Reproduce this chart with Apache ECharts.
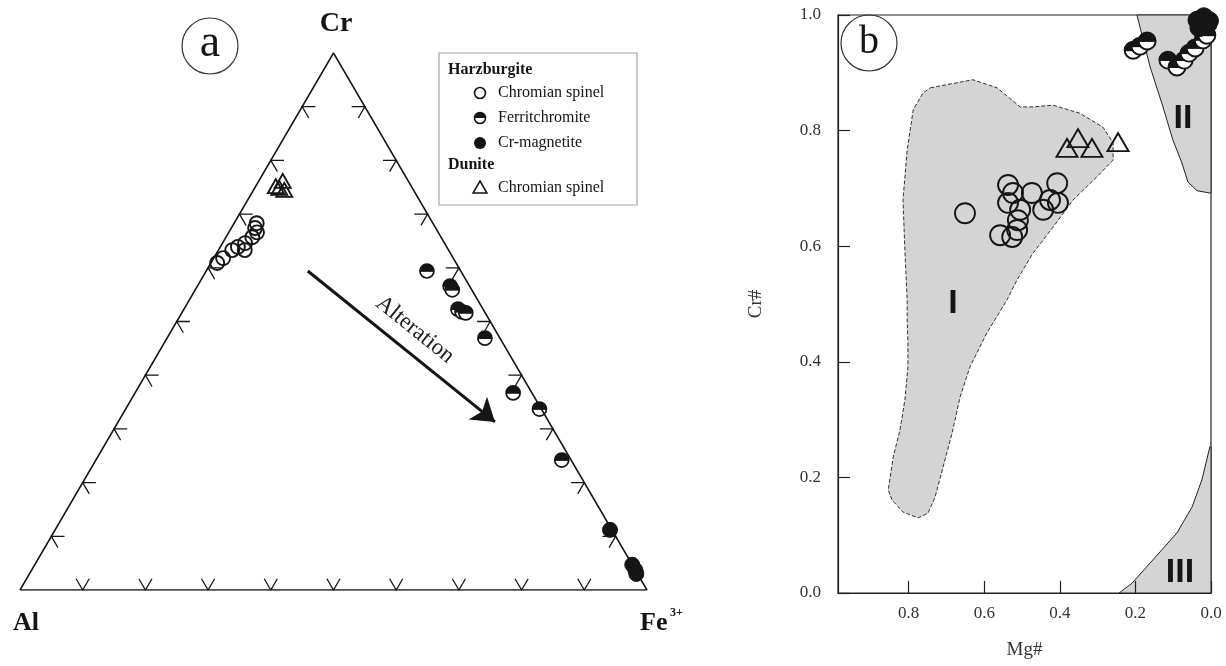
<!DOCTYPE html>
<html><head><meta charset="utf-8">
<script src="https://cdn.jsdelivr.net/npm/echarts@6/dist/echarts.min.js"></script>
<style>html,body{margin:0;padding:0;background:#fff}#c{width:1226px;height:666px}</style>
</head><body><div id="c"></div>
<script>
// ---------- Panel a: ternary Cr - Al - Fe3+ (fractions [Cr, Al, Fe]) ----------
const terHzChromian = [
  [0.609,0.381,0.010],[0.618,0.367,0.015],[0.633,0.345,0.022],[0.639,0.333,0.028],
  [0.633,0.325,0.042],[0.646,0.318,0.036],[0.657,0.301,0.042],[0.674,0.288,0.038],
  [0.683,0.281,0.036],[0.666,0.289,0.045]
];
const terDunChromian = [
  [0.752,0.216,0.032],[0.762,0.200,0.038],[0.745,0.206,0.049],[0.749,0.212,0.039]
];
const terFerritchromite = [
  [0.594,0.054,0.352],[0.566,0.031,0.403],[0.559,0.031,0.410],[0.523,0.040,0.437],
  [0.518,0.036,0.446],[0.516,0.031,0.453],[0.469,0.024,0.507],[0.367,0.030,0.603],
  [0.337,0.003,0.660],[0.242,0.015,0.743]
];
const terCrMagnetite = [
  [0.112,0.003,0.885],[0.047,0.000,0.953],[0.037,0.000,0.963],[0.030,0.002,0.968]
];
const ternTicks = [0.1,0.2,0.3,0.4,0.5,0.6,0.7,0.8,0.9];
const alterationStart = [0.594,0.244,0.162];
const alterationEnd = [0.313,0.086,0.601];

// ---------- Panel b: Cr# vs Mg# ([Mg#, Cr#]) ----------
const bHzChromian = [
  [0.651,0.657],[0.537,0.706],[0.524,0.692],[0.537,0.675],[0.505,0.663],[0.474,0.692],
  [0.407,0.709],[0.426,0.680],[0.405,0.675],[0.444,0.663],[0.511,0.645],[0.513,0.628],
  [0.558,0.619],[0.526,0.616]
];
const bDunChromian = [[0.381,0.770],[0.352,0.787],[0.315,0.770],[0.246,0.780]];
const bFerritchromite = [
  [0.206,0.939],[0.188,0.946],[0.169,0.955],[0.114,0.922],[0.090,0.910],
  [0.071,0.922],[0.058,0.934],[0.042,0.943],[0.021,0.957],[0.011,0.965]
];
const bCrMagnetite = [[0.037,0.991],[0.019,0.997],[0.008,0.984],[0.032,0.978],[0.004,0.990]];
const regionI = [
  [0.743,0.874],[0.630,0.888],[0.566,0.874],[0.505,0.841],[0.471,0.841],[0.418,0.844],
  [0.347,0.830],[0.286,0.806],[0.259,0.779],[0.259,0.749],[0.302,0.720],[0.365,0.680],
  [0.418,0.633],[0.471,0.588],[0.513,0.542],[0.540,0.507],[0.593,0.450],[0.638,0.391],
  [0.664,0.339],[0.685,0.277],[0.709,0.218],[0.730,0.166],[0.749,0.138],[0.775,0.130],
  [0.815,0.140],[0.844,0.161],[0.854,0.178],[0.841,0.235],[0.823,0.282],[0.810,0.334],
  [0.802,0.391],[0.802,0.433],[0.804,0.472],[0.804,0.507],[0.810,0.593],[0.815,0.680],
  [0.804,0.766],[0.788,0.836],[0.762,0.865]
];
const regionII = [
  [0.196,1.0],[0.161,0.910],[0.127,0.841],[0.101,0.784],[0.077,0.744],[0.061,0.711],
  [0.037,0.696],[0.003,0.692],[0,0.692],[0,1.0]
];
const regionIII = [
  [0.243,0],[0.209,0.017],[0.161,0.052],[0.090,0.104],[0.050,0.149],[0.024,0.196],
  [0.003,0.253],[0,0.253],[0,0]
];
const regionLabels = ['I','II','III'];
const regionLabelPos = [[0.683,0.50],[0.074,0.82],[0.082,0.035]];
const bXTicks = [0,0.2,0.4,0.6,0.8];
const bYTicks = [0,0.2,0.4,0.6,0.8,1.0];

// ---------- helpers ----------
const INK = '#151515';
const SERIF = '"Liberation Serif", "DejaVu Serif", serif';
function tern(p){ return [p[2] + p[0]/2, p[0]]; }
const stub = 0.021;
const tickLines = [];
ternTicks.forEach(t => {
  tickLines.push({coords:[[t - stub/2, stub],[t, 0],[t + stub/2, stub]]});
  tickLines.push({coords:[[t/2 + stub, t],[t/2, t],[t/2 + stub/2, t - stub]]});
  tickLines.push({coords:[[1 - t/2 - stub, t],[1 - t/2, t],[1 - t/2 - stub/2, t - stub]]});
});
function halfRender(r, lw){
  return function(params, api){
    const c = api.coord([api.value(0), api.value(1)]);
    return {type:'group', children:[
      {type:'circle', shape:{cx:c[0], cy:c[1], r:r}, style:{fill:'#fff', stroke:INK, lineWidth:lw}},
      {type:'sector', shape:{cx:c[0], cy:c[1], r0:0, r:r, startAngle:Math.PI, endAngle:2*Math.PI, clockwise:true}, style:{fill:INK}},
      {type:'line', shape:{x1:c[0]-r, y1:c[1], x2:c[0]+r, y2:c[1]}, style:{stroke:INK, lineWidth:lw}}
    ]};
  };
}
const regions = [regionI, regionII, regionIII];
const regionStyles = [
  {fill:'#d4d4d4', stroke:'#333', lineWidth:1, lineDash:[4,2]},
  {fill:'#d4d4d4', stroke:'#222', lineWidth:1},
  {fill:'#d4d4d4', stroke:'#222', lineWidth:1}
];
const openStyle = w => ({color:'rgba(0,0,0,0)', borderColor:INK, borderWidth:w, opacity:1});

const chart = echarts.init(document.getElementById('c'), null, {renderer:'canvas'});
chart.setOption({
  animation:false,
  backgroundColor:'#ffffff',
  grid:[
    {left:20, top:53, width:627, height:537, show:false},
    {left:838, top:15, width:373, height:578, show:true, borderColor:'#222', borderWidth:1.2, backgroundColor:'transparent'}
  ],
  xAxis:[
    {gridIndex:0, type:'value', min:0, max:1, show:false},
    {gridIndex:1, type:'value', inverse:true, min:0, max:0.987, z:5,
     splitLine:{show:false},
     axisLine:{onZero:false, lineStyle:{color:'#222', width:1.2}},
     axisTick:{inside:true, length:12, customValues:bXTicks, lineStyle:{color:'#222', width:1.2}},
     axisLabel:{customValues:bXTicks, formatter:v=>v.toFixed(1), margin:12, color:'#333', fontFamily:SERIF, fontSize:17},
     name:'Mg#', nameLocation:'middle', nameGap:48, nameTextStyle:{fontFamily:SERIF, fontSize:19, color:'#333'}}
  ],
  yAxis:[
    {gridIndex:0, type:'value', min:0, max:1, show:false},
    {gridIndex:1, type:'value', min:0, max:1, interval:0.2, z:5, position:'left',
     splitLine:{show:false},
     axisLine:{onZero:false, lineStyle:{color:'#222', width:1.2}},
     axisTick:{inside:true, length:12, customValues:bYTicks, lineStyle:{color:'#222', width:1.2}},
     axisLabel:{customValues:bYTicks, formatter:v=>v.toFixed(1), margin:17, color:'#333', fontFamily:SERIF, fontSize:17},
     name:'Cr#', nameLocation:'middle', nameGap:72, nameRotate:90, nameTextStyle:{fontFamily:SERIF, fontSize:19, color:'#333'}}
  ],
  graphic:[
    {type:'circle', shape:{cx:210, cy:46, r:28}, style:{fill:'none', stroke:'#333', lineWidth:1.2}},
    {type:'text', style:{text:'a', x:210, y:44, align:'center', verticalAlign:'middle', textAlign:'center', textVerticalAlign:'middle', font:'46px ' + SERIF, fill:INK}},
    {type:'circle', shape:{cx:869, cy:43, r:28}, style:{fill:'none', stroke:'#333', lineWidth:1.2}},
    {type:'text', style:{text:'b', x:869, y:42, align:'center', verticalAlign:'middle', textAlign:'center', textVerticalAlign:'middle', font:'40px ' + SERIF, fill:INK}},
    {type:'text', style:{text:'Cr', x:336, y:24, align:'center', verticalAlign:'middle', textAlign:'center', textVerticalAlign:'middle', font:'bold 28px ' + SERIF, fill:INK}},
    {type:'text', style:{text:'Al', x:26, y:623, align:'center', verticalAlign:'middle', textAlign:'center', textVerticalAlign:'middle', font:'bold 26px ' + SERIF, fill:INK}},
    {type:'text', style:{text:'Fe', x:640, y:623, align:'left', verticalAlign:'middle', textAlign:'left', textVerticalAlign:'middle', font:'bold 26px ' + SERIF, fill:INK}},
    {type:'text', style:{text:'3+', x:670, y:613, align:'left', verticalAlign:'middle', textAlign:'left', textVerticalAlign:'middle', font:'bold 12px ' + SERIF, fill:INK}},
    {type:'rect', shape:{x:439, y:53, width:198, height:152}, style:{fill:'#fff', stroke:'#a5a5a5', lineWidth:1.2}},
    {type:'text', style:{text:'Harzburgite', x:448, y:70, verticalAlign:'middle', textVerticalAlign:'middle', font:'bold 16px ' + SERIF, fill:INK}},
    {type:'circle', shape:{cx:480, cy:93, r:5.5}, style:{fill:'none', stroke:INK, lineWidth:1.6}},
    {type:'text', style:{text:'Chromian spinel', x:498, y:93, verticalAlign:'middle', textVerticalAlign:'middle', font:'16px ' + SERIF, fill:INK}},
    {type:'circle', shape:{cx:480, cy:118, r:5.5}, style:{fill:'#fff', stroke:INK, lineWidth:1.6}},
    {type:'sector', shape:{cx:480, cy:118, r0:0, r:5.5, startAngle:Math.PI, endAngle:2*Math.PI, clockwise:true}, style:{fill:INK}},
    {type:'text', style:{text:'Ferritchromite', x:498, y:118, verticalAlign:'middle', textVerticalAlign:'middle', font:'16px ' + SERIF, fill:INK}},
    {type:'circle', shape:{cx:480, cy:143, r:6}, style:{fill:INK}},
    {type:'text', style:{text:'Cr-magnetite', x:498, y:143, verticalAlign:'middle', textVerticalAlign:'middle', font:'16px ' + SERIF, fill:INK}},
    {type:'text', style:{text:'Dunite', x:448, y:165, verticalAlign:'middle', textVerticalAlign:'middle', font:'bold 16px ' + SERIF, fill:INK}},
    {type:'polygon', shape:{points:[[480,181],[487,193],[473,193]]}, style:{fill:'none', stroke:INK, lineWidth:1.5}},
    {type:'text', style:{text:'Chromian spinel', x:498, y:188, verticalAlign:'middle', textVerticalAlign:'middle', font:'16px ' + SERIF, fill:INK}}
  ],
  series:[
    {type:'line', xAxisIndex:0, yAxisIndex:0, data:[[0,0],[1,0],[0.5,1],[0,0]], symbol:'none', silent:true,
     lineStyle:{color:INK, width:1.5},
     markLine:{silent:true, symbol:['none','arrow'], symbolSize:22, animation:false,
       lineStyle:{color:INK, width:3, type:'solid'},
       label:{show:true, formatter:'Alteration', position:'insideMiddleTop', distance:10, color:'#222', fontFamily:SERIF, fontSize:23},
       data:[[{coord:tern(alterationStart)},{coord:tern(alterationEnd)}]]}},
    {type:'lines', coordinateSystem:'cartesian2d', xAxisIndex:0, yAxisIndex:0, polyline:true, silent:true,
     data:tickLines, lineStyle:{color:INK, width:1.3, opacity:1}},
    {type:'scatter', xAxisIndex:0, yAxisIndex:0, data:terHzChromian.map(tern), symbol:'circle', symbolSize:14,
     itemStyle:openStyle(1.9)},
    {type:'scatter', xAxisIndex:0, yAxisIndex:0, data:terDunChromian.map(tern), symbol:'triangle', symbolSize:[16,14],
     itemStyle:openStyle(1.8)},
    {type:'custom', xAxisIndex:0, yAxisIndex:0, data:terFerritchromite.map(tern), renderItem:halfRender(7,1.7)},
    {type:'scatter', xAxisIndex:0, yAxisIndex:0, data:terCrMagnetite.map(tern), symbol:'circle', symbolSize:15,
     itemStyle:{color:INK, borderColor:INK, borderWidth:1, opacity:1}},
    {type:'custom', xAxisIndex:1, yAxisIndex:1, z:1, data:regions.map((r,i)=>[0,0,i]),
     renderItem:function(params, api){
       const i = api.value(2);
       return {type:'polygon', shape:{points:regions[i].map(p=>api.coord(p))}, style:regionStyles[i]};
     }},
    {type:'custom', xAxisIndex:1, yAxisIndex:1, z:3, data:regionLabelPos.map((p,i)=>[p[0],p[1],i]),
     renderItem:function(params, api){
       const c = api.coord([api.value(0), api.value(1)]);
       return {type:'text', style:{text:regionLabels[api.value(2)], x:c[0], y:c[1], align:'center', verticalAlign:'middle',
         font:'bold 34px "Liberation Sans", Arial, sans-serif', fill:INK}};
     }},
    {type:'scatter', xAxisIndex:1, yAxisIndex:1, z:4, data:bHzChromian, symbol:'circle', symbolSize:20,
     itemStyle:openStyle(1.9)},
    {type:'scatter', xAxisIndex:1, yAxisIndex:1, z:4, data:bDunChromian, symbol:'triangle', symbolSize:[21,18],
     itemStyle:openStyle(1.9)},
    {type:'custom', xAxisIndex:1, yAxisIndex:1, z:4, data:bFerritchromite, renderItem:halfRender(8.5,1.9)},
    {type:'scatter', xAxisIndex:1, yAxisIndex:1, z:4, data:bCrMagnetite, symbol:'circle', symbolSize:18,
     itemStyle:{color:INK, borderColor:INK, borderWidth:1, opacity:1}}
  ]
});
</script>
</body></html>
